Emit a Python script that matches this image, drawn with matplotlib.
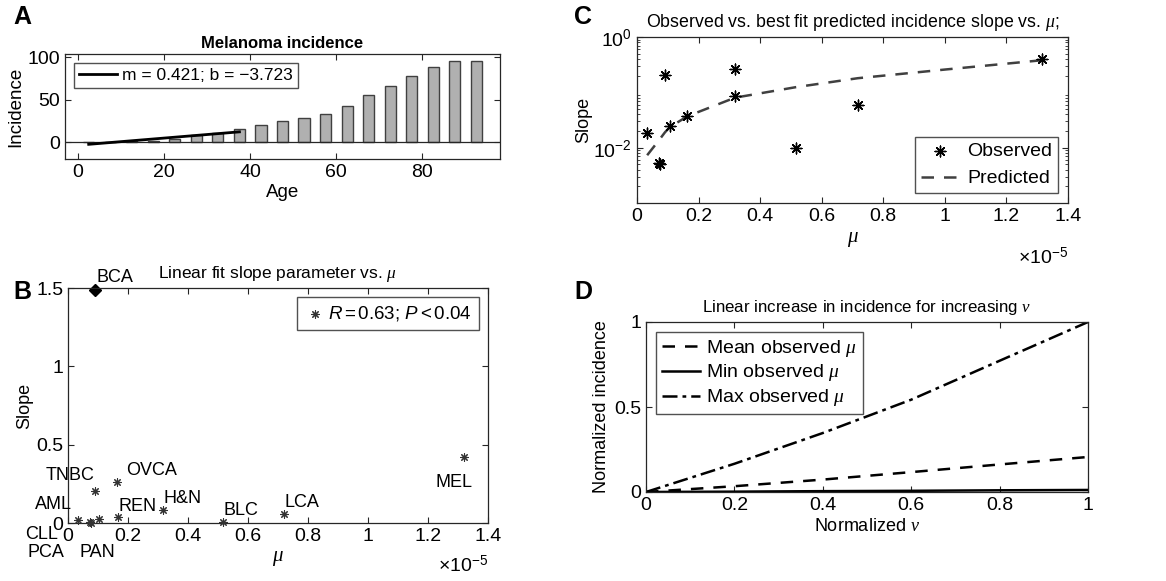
import numpy as np
import matplotlib
matplotlib.use("Agg")
import matplotlib.pyplot as plt
from matplotlib.ticker import FuncFormatter

plt.rcParams["font.family"] = ["Liberation Sans", "DejaVu Sans"]
plt.rcParams["mathtext.fontset"] = "custom"
plt.rcParams["mathtext.rm"] = "Liberation Sans"
plt.rcParams["mathtext.it"] = "Liberation Serif:italic"
plt.rcParams["mathtext.sf"] = "Liberation Sans:italic"
plt.rcParams["mathtext.bf"] = "Liberation Sans:bold"
plt.rcParams["xtick.direction"] = "in"
plt.rcParams["ytick.direction"] = "in"
plt.rcParams["xtick.top"] = True
plt.rcParams["ytick.right"] = True

# ---- panel A: melanoma incidence by age group ----
age_mid = [2.5, 7.5, 12.5, 17.5, 22.5, 27.5, 32.5, 37.5, 42.5, 47.5,
           52.5, 57.5, 62.5, 67.5, 72.5, 77.5, 82.5, 87.5, 92.5]
incidence = [0.4, 0.5, 1.0, 1.5, 4, 8, 11, 15, 20, 25,
             28, 33, 42, 55, 66, 78, 89, 96, 96]
fit_m = 0.421
fit_b = -3.723
fit_age = [2.5, 37.5]

# ---- panel B: linear fit slope vs mu (mu in units of 1e-5) ----
cancers = ["TNBC", "OVCA", "AML", "CLL", "PCA", "PAN", "REN", "H&N", "BLC", "LCA", "MEL"]
mu_b = [0.091, 0.163, 0.032, 0.072, 0.075, 0.104, 0.166, 0.315, 0.516, 0.719, 1.319]
slope_b = [0.207, 0.261, 0.021, 0.006, 0.002, 0.028, 0.041, 0.085, 0.006, 0.058, 0.421]
bca_mu = 0.091
bca_slope = 1.49
label_x = [-0.075, 0.194, -0.111, -0.142, -0.134, 0.038, 0.170, 0.318, 0.518, 0.721, 1.224]
label_y = [0.30, 0.335, 0.118, -0.075, -0.188, -0.188, 0.107, 0.154, 0.081, 0.128, 0.256]

# ---- panel C: observed vs predicted slope (log) ----
mu_c = [0.031, 0.073, 0.074, 0.091, 0.107, 0.164, 0.318, 0.318, 0.516, 0.717, 1.315]
slope_c = [0.0187, 0.0053, 0.0050, 0.203, 0.0243, 0.0368, 0.26, 0.085, 0.010, 0.059, 0.407]
pred_mu = [0.033, 0.073, 0.091, 0.107, 0.164, 0.318, 0.516, 0.717, 1.0, 1.315]
pred_slope = [0.0073, 0.014, 0.019, 0.0236, 0.037, 0.080, 0.124, 0.18, 0.258, 0.38]

# ---- panel D: normalized incidence vs normalized nu ----
nu = [0, 0.2, 0.4, 0.6, 0.8, 1.0]
inc_mean = [0, 0.034, 0.073, 0.117, 0.162, 0.206]
inc_min = [0, 0.002, 0.005, 0.007, 0.010, 0.012]
inc_max = [0, 0.166, 0.347, 0.543, 0.772, 1.0]

fig = plt.figure(figsize=(11.66, 5.81), dpi=100)
W, H = 1166, 581


def add_ax(l, t, r, b):
    return fig.add_axes([l / W, 1 - b / H, (r - l) / W, (b - t) / H])


axc = "#262626"
star = (8, 2, 0)
gfmt = FuncFormatter(lambda v, p: "%g" % v)
tick_fs = 14

# A
axA = add_ax(65, 54, 500, 159)
axA.bar(age_mid, incidence, width=2.6, color="#b0b0b0", edgecolor="#404040", linewidth=1)
axA.axhline(0, color=axc, lw=0.9)
fit_y = [fit_m * a + fit_b for a in fit_age]
axA.plot(fit_age, fit_y, color="black", lw=2, label="m = 0.421; b = \u22123.723")
axA.set_xlim(-3, 98)
axA.set_ylim(-20, 104)
axA.set_xticks([0, 20, 40, 60, 80])
axA.set_yticks([0, 50, 100])
axA.tick_params(labelsize=tick_fs, length=4, color=axc)
axA.set_xlabel("Age", fontsize=13.5, labelpad=2)
axA.set_ylabel("Incidence", fontsize=13.5, labelpad=2)
axA.set_title("Melanoma incidence", fontsize=12, fontweight="bold", pad=4)
axA.legend(loc="upper left", fontsize=12.5, frameon=True, fancybox=False,
           edgecolor=axc, handlelength=2.2, handletextpad=0.3, borderpad=0.3,
           borderaxespad=0.5).get_frame().set_linewidth(1)

# B
axB = add_ax(68, 288, 488, 523)
axB.scatter(mu_b, slope_b, marker=star, s=30, color="#333333", linewidths=0.8,
            label=r"$\mathsf{R} = 0.63$; $\mathsf{P} < 0.04$", clip_on=False, zorder=3)
axB.plot([bca_mu], [bca_slope], marker="D", ms=6, color="black", ls="none", clip_on=False)
axB.text(bca_mu + 0.003, 1.57, "BCA", fontsize=13, va="center", ha="left")
for name, lx, ly in zip(cancers, label_x, label_y):
    axB.text(lx, ly, name, fontsize=13, va="center", ha="left", clip_on=False)
axB.set_xlim(0, 1.4)
axB.set_ylim(0, 1.5)
axB.set_xticks(np.arange(0, 1.41, 0.2))
axB.set_yticks([0, 0.5, 1, 1.5])
axB.xaxis.set_major_formatter(gfmt)
axB.yaxis.set_major_formatter(gfmt)
axB.tick_params(labelsize=tick_fs, length=4, color=axc)
axB.set_xlabel(r"$\mu$", fontsize=15, labelpad=3)
axB.set_ylabel("Slope", fontsize=13, labelpad=2)
axB.set_title(r"Linear fit slope parameter vs. $\mu$", fontsize=12.5, pad=7)
axB.text(1.0, -0.18, r"$\times10^{-5}$", transform=axB.transAxes, ha="right",
         va="center", fontsize=14)
legB = axB.legend(loc="upper right", fontsize=13.5, frameon=True, fancybox=False,
                  edgecolor=axc, handletextpad=0.1, borderpad=0.35, handlelength=1.2,
                  borderaxespad=0.5)
legB.get_frame().set_linewidth(1)

# C
axC = add_ax(637, 37, 1068, 203)
axC.plot(pred_mu, pred_slope, ls=(0, (5, 4)), color="#404040", lw=1.8, label="Predicted")
axC.scatter(mu_c, slope_c, marker=star, s=60, color="black", linewidths=1.0,
            label="Observed", zorder=3)
axC.set_yscale("log")
axC.set_xlim(0, 1.4)
axC.set_ylim(1e-3, 1)
axC.set_yticks([1e-2, 1])
axC.set_xticks(np.arange(0, 1.41, 0.2))
axC.xaxis.set_major_formatter(gfmt)
axC.tick_params(labelsize=tick_fs, length=4, color=axc)
axC.tick_params(which="minor", length=2, color=axc)
axC.set_xlabel(r"$\mu$", fontsize=15, labelpad=4)
axC.set_ylabel("Slope", fontsize=13, labelpad=1)
axC.set_title(r"Observed vs. best fit predicted incidence slope vs. $\mu$;", fontsize=12.8, pad=7)
axC.text(1.0, -0.33, r"$\times10^{-5}$", transform=axC.transAxes, ha="right",
         va="center", fontsize=14)
h, l = axC.get_legend_handles_labels()
legC = axC.legend([h[1], h[0]], [l[1], l[0]], loc="lower right", fontsize=14,
                  frameon=True, fancybox=False, edgecolor=axc, handlelength=2.0,
                  handletextpad=0.4, borderpad=0.3, borderaxespad=0.5)
legC.get_frame().set_linewidth(1)

# D
axD = add_ax(646, 322, 1088, 492)
axD.plot(nu, inc_mean, color="black", ls=(0, (5, 4)), lw=1.8, label=r"Mean observed $\mu$")
axD.plot(nu, inc_min, color="black", ls="-", lw=1.8, label=r"Min observed $\mu$")
axD.plot(nu, inc_max, color="black", ls=(0, (6, 2, 1.5, 2)), lw=1.8, label=r"Max observed $\mu$")
axD.set_xlim(0, 1)
axD.set_ylim(0, 1)
axD.set_xticks([0, 0.2, 0.4, 0.6, 0.8, 1])
axD.set_yticks([0, 0.5, 1])
axD.xaxis.set_major_formatter(gfmt)
axD.yaxis.set_major_formatter(gfmt)
axD.tick_params(labelsize=tick_fs, length=4, color=axc)
axD.set_xlabel(r"Normalized $\nu$", fontsize=13, labelpad=3)
axD.set_ylabel("Normalized incidence", fontsize=13, labelpad=3)
axD.set_title(r"Linear increase in incidence for increasing $\nu$", fontsize=12.2, pad=7)
legD = axD.legend(loc="upper left", fontsize=14, frameon=True, fancybox=False,
                  edgecolor=axc, handlelength=2.0, handletextpad=0.3, borderpad=0.3,
                  labelspacing=0.2, borderaxespad=0.5)
legD.get_frame().set_linewidth(1)

for ax in (axA, axB, axC, axD):
    for s in ax.spines.values():
        s.set_color(axc)
        s.set_linewidth(0.9)

# panel letters
for letter, x, y in [("A", 22, 17), ("B", 22, 292), ("C", 583, 17), ("D", 583, 292)]:
    fig.text(x / W, 1 - y / H, letter, fontsize=18, fontweight="bold", ha="center", va="center")

fig.savefig("out.png", dpi=100)
